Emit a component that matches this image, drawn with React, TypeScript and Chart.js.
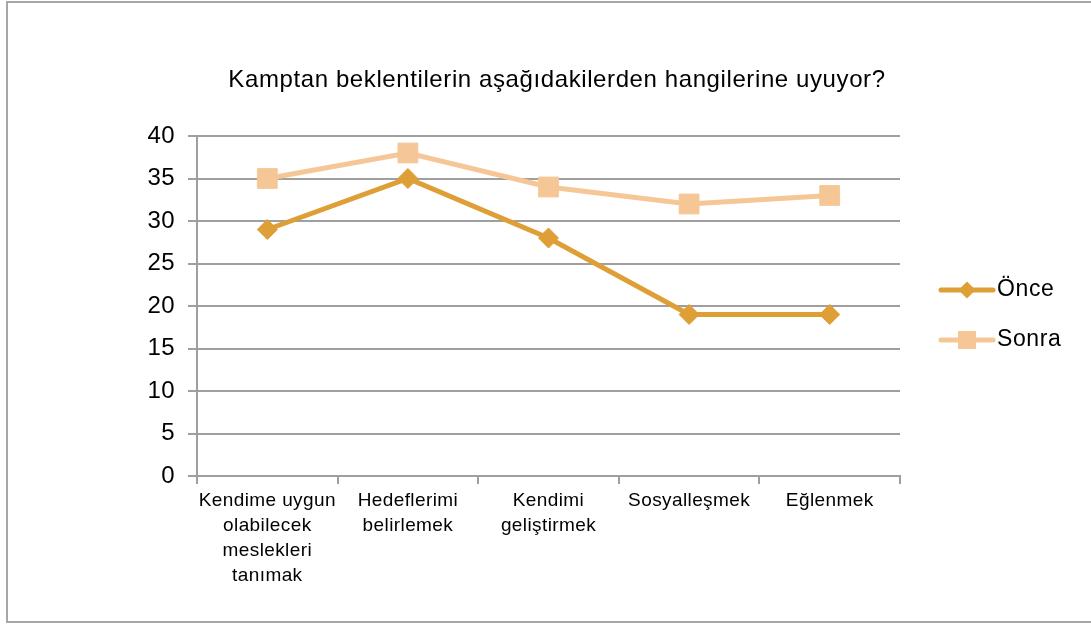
import React, { useEffect, useRef } from "react";
import { Chart, registerables } from "chart.js";

Chart.register(...registerables);

const categories: string[][] = [
  ["Kendime uygun", "olabilecek", "meslekleri", "tanımak"],
  ["Hedeflerimi", "belirlemek"],
  ["Kendimi", "geliştirmek"],
  ["Sosyalleşmek"],
  ["Eğlenmek"],
];
const onceValues = [29, 35, 28, 19, 19];
const sonraValues = [35, 38, 34, 32, 33];
const yTicks = [0, 5, 10, 15, 20, 25, 30, 35, 40];
const titleText = "Kamptan beklentilerin aşağıdakilerden hangilerine uyuyor?";
const seriesNames = ["Önce", "Sonra"];

const FONT = "'Liberation Sans', Arial, sans-serif";
const ONCE_COLOR = "#DE9F37";
const SONRA_COLOR = "#F6C796";
const GRID = "#9f9f9f";

const framePlugin = {
  id: "frame",
  beforeDraw(chart: any) {
    const ctx = chart.ctx;
    ctx.save();
    ctx.fillStyle = "#ffffff";
    ctx.fillRect(0, 0, chart.width, chart.height);
    ctx.strokeStyle = "#a6a6a6";
    ctx.lineWidth = 2;
    ctx.strokeRect(7, 2, 1200, 620);
    ctx.restore();
    // applies to subsequent tick text drawing
    ctx.letterSpacing = "0.4px";
  },
  afterDraw(chart: any) {
    const ctx = chart.ctx;
    ctx.save();
    ctx.fillStyle = "#000000";
    ctx.font = `24px ${FONT}`;
    ctx.letterSpacing = "0.6px";
    ctx.textAlign = "center";
    ctx.textBaseline = "middle";
    ctx.fillText(titleText, 557, 80);

    const items = chart.data.datasets;
    items.forEach((ds: any, i: number) => {
      const y = 290 + i * 50;
      ctx.strokeStyle = ds.borderColor;
      ctx.lineWidth = 5;
      ctx.lineCap = "round";
      ctx.beginPath();
      ctx.moveTo(941, y);
      ctx.lineTo(993, y);
      ctx.stroke();
      ctx.fillStyle = ds.borderColor;
      ctx.beginPath();
      if (ds.pointStyle === "rectRot") {
        ctx.moveTo(967 - 8.5, y);
        ctx.lineTo(967, y - 8.5);
        ctx.lineTo(967 + 8.5, y);
        ctx.lineTo(967, y + 8.5);
        ctx.closePath();
      } else {
        ctx.rect(967 - 9, y - 9, 18, 18);
      }
      ctx.fill();
      ctx.fillStyle = "#000000";
      ctx.font = `23px ${FONT}`;
      ctx.letterSpacing = "0.6px";
      ctx.textAlign = "left";
      ctx.textBaseline = "middle";
      ctx.fillText(ds.label, 997, y);
    });
    ctx.restore();
  },
};

export default function App() {
  const ref = useRef<HTMLCanvasElement | null>(null);
  useEffect(() => {
    if (!ref.current) return;
    const chart = new Chart(ref.current, {
      type: "line",
      data: {
        labels: categories,
        datasets: [
          {
            label: seriesNames[0],
            data: onceValues,
            borderColor: ONCE_COLOR,
            backgroundColor: ONCE_COLOR,
            borderWidth: 5,
            pointStyle: "rectRot",
            pointRadius: 10,
            pointBorderWidth: 1,
            pointBorderColor: ONCE_COLOR,
            tension: 0,
          },
          {
            label: seriesNames[1],
            data: sonraValues,
            borderColor: SONRA_COLOR,
            backgroundColor: SONRA_COLOR,
            borderWidth: 5,
            pointStyle: "rect",
            pointRadius: 14,
            pointBorderWidth: 1,
            pointBorderColor: SONRA_COLOR,
            tension: 0,
          },
        ],
      },
      options: {
        responsive: false,
        animation: false,
        layout: { padding: { top: 136, left: 0, right: 191, bottom: 0 } },
        plugins: {
          legend: { display: false },
          title: { display: false },
          tooltip: { enabled: false },
        },
        scales: {
          x: {
            type: "category",
            offset: true,
            afterFit(scale: any) {
              scale.height = 148;
            },
            grid: {
              offset: true,
              drawOnChartArea: false,
              drawTicks: true,
              tickLength: 8,
              color: GRID,
              lineWidth: 2,
            },
            border: { color: GRID, width: 2 },
            ticks: {
              autoSkip: false,
              maxRotation: 0,
              minRotation: 0,
              padding: 4,
              color: "#000000",
              font: { family: FONT, size: 19, lineHeight: 1.32 },
            },
          },
          y: {
            min: 0,
            max: 40,
            afterFit(scale: any) {
              scale.width = 197;
            },
            afterBuildTicks(scale: any) {
              scale.ticks = yTicks.map((v) => ({ value: v }));
            },
            grid: {
              color: GRID,
              lineWidth: 2,
              tickLength: 9,
              drawTicks: true,
            },
            border: { color: GRID, width: 2 },
            ticks: {
              padding: 13,
              color: "#000000",
              font: { family: FONT, size: 24 },
            },
          },
        },
      },
      plugins: [framePlugin],
    });
    return () => chart.destroy();
  }, []);
  return (
    <div style={{ position: "absolute", left: 0, top: 0, width: 1091, height: 624 }}>
      <canvas ref={ref} width={1091} height={624} style={{ display: "block" }} />
    </div>
  );
}
